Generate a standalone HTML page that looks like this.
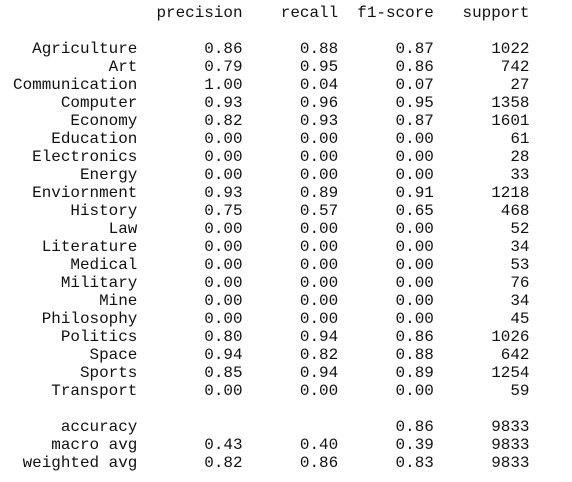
<!DOCTYPE html>
<html><head><meta charset="utf-8">
<style>
html,body{margin:0;padding:0;background:#fff;width:572px;height:482px;overflow:hidden}
#report{position:absolute;left:13px;top:4px;margin:0;font-family:"Liberation Mono","DejaVu Sans Mono",monospace;font-size:15.95px;line-height:18px;color:#111;white-space:pre}
.line{display:block;height:18px}
</style></head>
<body>
<pre id="report"></pre>
<script>
const classes=["Agriculture","Art","Communication","Computer","Economy","Education","Electronics","Energy","Enviornment","History","Law","Literature","Medical","Military","Mine","Philosophy","Politics","Space","Sports","Transport"];
const precision=[0.86,0.79,1.00,0.93,0.82,0,0,0,0.93,0.75,0,0,0,0,0,0,0.80,0.94,0.85,0];
const recall=[0.88,0.95,0.04,0.96,0.93,0,0,0,0.89,0.57,0,0,0,0,0,0,0.94,0.82,0.94,0];
const f1=[0.87,0.86,0.07,0.95,0.87,0,0,0,0.91,0.65,0,0,0,0,0,0,0.86,0.88,0.89,0];
const support=[1022,742,27,1358,1601,61,28,33,1218,468,52,34,53,76,34,45,1026,642,1254,59];
const summaryNames=["accuracy","macro avg","weighted avg"];
const summaryP=[null,0.43,0.82];
const summaryR=[null,0.40,0.86];
const summaryF=[0.86,0.39,0.83];
const summaryS=[9833,9833,9833];
const W=13;
function L(s,n){s=String(s);while(s.length<n)s=" "+s;return s;}
function f(v){return v===null?"":v.toFixed(2);}
const pre=document.getElementById('report');
function add(text,name){
  const el=document.createElement('span');
  el.className='line';
  el.textContent=text;
  
  
  pre.appendChild(el);
}
add(L("",W)+" "+" "+L("precision",9)+" "+L("recall",9)+" "+L("f1-score",9)+" "+L("support",9),"header-row");
add("","blank-row");
for(let i=0;i<classes.length;i++){
  add(L(classes[i],W)+" "+" "+L(f(precision[i]),9)+" "+L(f(recall[i]),9)+" "+L(f(f1[i]),9)+" "+L(support[i],9),"row-"+classes[i].toLowerCase());
}
add("","blank-row");
for(let i=0;i<summaryNames.length;i++){
  add(L(summaryNames[i],W)+" "+" "+L(f(summaryP[i]),9)+" "+L(f(summaryR[i]),9)+" "+L(f(summaryF[i]),9)+" "+L(summaryS[i],9),"row-"+summaryNames[i].replace(/ /g,'-'));
}
</script>
</body></html>
